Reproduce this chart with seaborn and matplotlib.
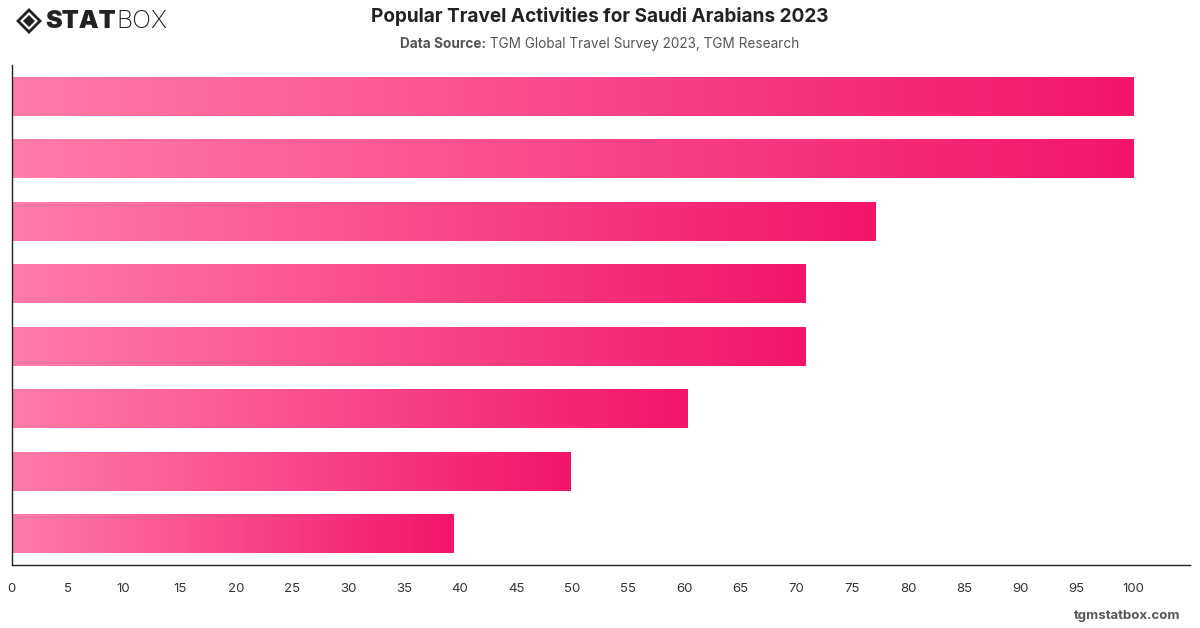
import numpy as np
import pandas as pd
import matplotlib
matplotlib.use("Agg")
import matplotlib.pyplot as plt
import seaborn as sns
from matplotlib.colors import LinearSegmentedColormap
from matplotlib.patches import Polygon

categories = ["Activity 1", "Activity 2", "Activity 3", "Activity 4",
              "Activity 5", "Activity 6", "Activity 7", "Activity 8"]
values = [100, 100, 77.0, 70.8, 70.8, 60.2, 49.8, 39.4]
xticks = list(range(0, 101, 5))

title = "Popular Travel Activities for Saudi Arabians 2023"
source_label = "Data Source:"
source_text = " TGM Global Travel Survey 2023, TGM Research"

sns.set_theme(style="white")
plt.rcParams['font.family'] = ['Inter', 'DejaVu Sans']

df = pd.DataFrame({"activity": categories, "value": values})

fig = plt.figure(figsize=(12, 6.28), dpi=100)
ax = fig.add_axes([11.5/1200, 63/628, (1190-11.5)/1200, 500/628])

sns.barplot(data=df, y="activity", x="value", orient="h", ax=ax,
            width=0.625, color="#F71B6B", saturation=1)

cmap = LinearSegmentedColormap.from_list("pinkgrad", ["#FF7BA9", "#F2156A"])
grad = np.linspace(0, 1, 256).reshape(1, -1)
for p in ax.patches:
    x0, y0 = p.get_x(), p.get_y()
    w, h = p.get_width(), p.get_height()
    im = ax.imshow(grad, cmap=cmap, aspect="auto",
                   extent=[x0, x0 + w, y0 + h, y0], zorder=2,
                   interpolation="bilinear")
    im.set_clip_path(p)
    p.set_facecolor("none")
    p.set_edgecolor("none")

ax.set_xlim(0, 105.1)
ax.set_ylim(7.5, -0.5)
ax.set_xticks(xticks)
ax.set_xticklabels([str(t) for t in xticks], fontsize=9.5, color="#333333")
ax.set_yticks([])
ax.set_xlabel("")
ax.set_ylabel("")
ax.tick_params(axis="x", length=0, pad=13)
for lbl in ax.get_xticklabels():
    lbl.set_x(lbl.get_position()[0])
for s in ["top", "right"]:
    ax.spines[s].set_visible(False)
for s in ["left", "bottom"]:
    ax.spines[s].set_color("#222222")
    ax.spines[s].set_linewidth(1.0)

# Title and subtitle
fig.text(0.5, 1 - 17/628, title, ha="center", va="center",
         fontsize=13.7, fontweight="bold", color="#222222")
t1 = fig.text(0.5, 1 - 44/628, source_label, ha="right", va="center",
              fontsize=9.8, fontweight="bold", color="#555555")
t2 = fig.text(0.5, 1 - 44/628, source_text, ha="left", va="center",
              fontsize=9.8, color="#555555")
fig.canvas.draw()
w1 = t1.get_window_extent().width
w2 = t2.get_window_extent().width
center = 600
left = center - (w1 + w2) / 2
t1.set_x((left + w1) / 1200)
t2.set_x((left + w1) / 1200)

# Logo
cx, cy = 29/1200, 1 - 21/628
def diamond(cx, cy, rpx):
    return [(cx - rpx/1200, cy), (cx, cy + rpx/628), (cx + rpx/1200, cy), (cx, cy - rpx/628)]
fig.patches.append(Polygon(diamond(cx, cy, 13), closed=True, transform=fig.transFigure,
                           facecolor="#222222", edgecolor="none"))
fig.patches.append(Polygon(diamond(cx, cy, 9), closed=True, transform=fig.transFigure,
                           facecolor="white", edgecolor="none"))
fig.patches.append(Polygon(diamond(cx, cy, 6), closed=True, transform=fig.transFigure,
                           facecolor="#222222", edgecolor="none"))
ts = fig.text(45/1200, 1 - 21/628, "STAT", ha="left", va="center",
              fontsize=18, fontweight="black", color="#222222")
fig.canvas.draw()
ws = ts.get_window_extent().width
fig.text((45 + ws + 1)/1200, 1 - 21/628, "BOX", ha="left", va="center",
         fontsize=18, fontweight="light", color="#222222")

# Watermark
fig.text(1180/1200, 1 - 616/628, "tgmstatbox.com", ha="right", va="center",
         fontsize=9.5, fontweight="bold", color="#555555")

fig.savefig("out.png", dpi=100)
